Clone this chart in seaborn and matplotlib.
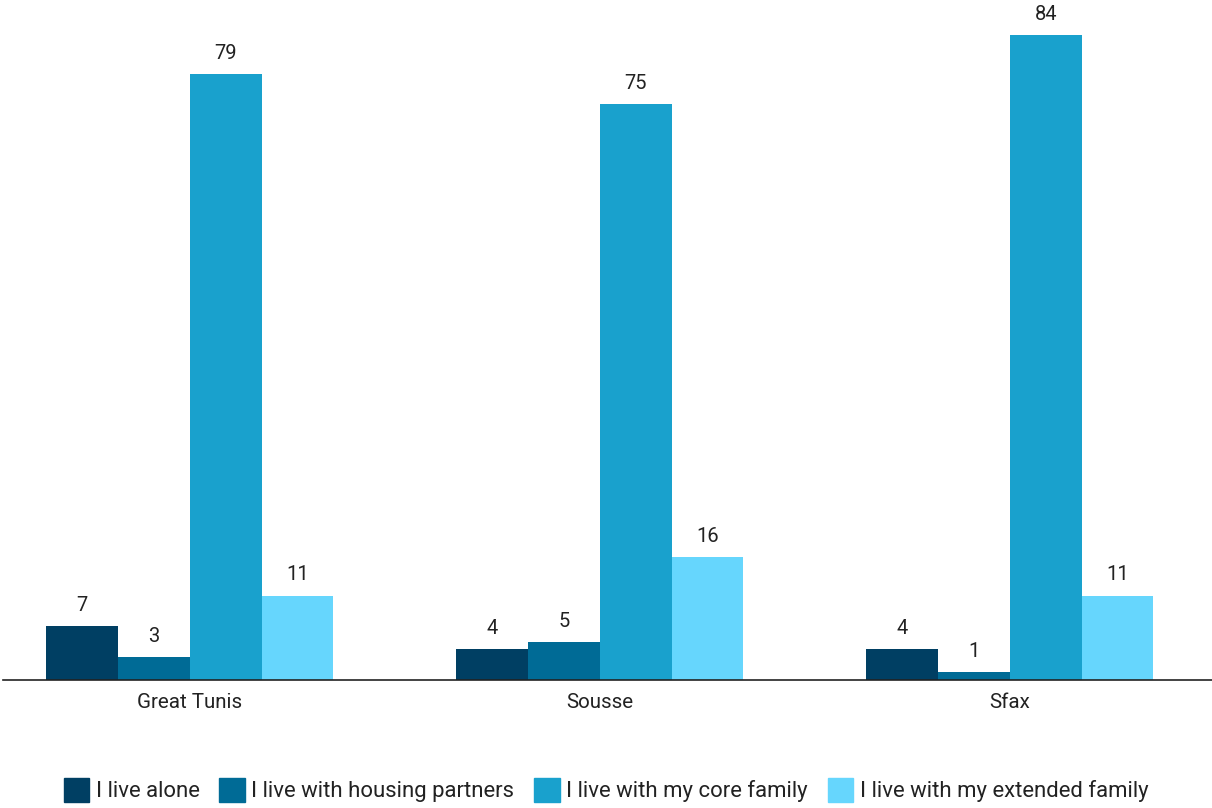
import matplotlib
matplotlib.use("Agg")
import matplotlib.pyplot as plt
import seaborn as sns
import pandas as pd

regions = ["Great Tunis", "Sousse", "Sfax"]
situations = [
    "I live alone",
    "I live with housing partners",
    "I live with my core family",
    "I live with my extended family",
]
live_alone = [7, 4, 4]
housing_partners = [3, 5, 1]
core_family = [79, 75, 84]
extended_family = [11, 16, 11]
palette = ["#003f63", "#006b96", "#19a1cd", "#66d6fd"]

rows = []
for name, vals in zip(situations, [live_alone, housing_partners, core_family, extended_family]):
    for reg, v in zip(regions, vals):
        rows.append({"Region": reg, "Situation": name, "Share": v})
df = pd.DataFrame(rows)

sns.set_theme(style="white")
plt.rcParams["font.family"] = ["Roboto", "DejaVu Sans"]

fig = plt.figure(figsize=(12.12, 8.08), dpi=100)
ax = fig.add_axes([3 / 1212, 1 - 680 / 808, 1209 / 1212, 680 / 808])

sns.barplot(data=df, x="Region", y="Share", hue="Situation", order=regions,
            hue_order=situations, palette=palette, width=0.7, saturation=1,
            linewidth=0, ax=ax, legend=False)

for cont in ax.containers:
    ax.bar_label(cont, padding=8, fontsize=14.5, color="#222222")

ax.set_ylim(0, 88.6)
ax.set_xlim(-0.456, 2.493)
ax.set_xlabel("")
ax.set_ylabel("")
ax.set_yticks([])
for s in ["top", "left", "right"]:
    ax.spines[s].set_visible(False)
ax.spines["bottom"].set_color("#222222")
ax.spines["bottom"].set_linewidth(1.2)
ax.tick_params(axis="x", length=0, pad=9, labelsize=14.8, labelcolor="#222222")

handles = [plt.Rectangle((0, 0), 1, 1, color=c) for c in palette]
fig.legend(handles, situations, loc="center", bbox_to_anchor=(0.5, 1 - 790 / 808),
           ncol=4, frameon=False, fontsize=15.9, handlelength=1.15, handleheight=1.3,
           handletextpad=0.3, columnspacing=0.9, labelcolor="#222222")

fig.savefig("out.png", dpi=100)
